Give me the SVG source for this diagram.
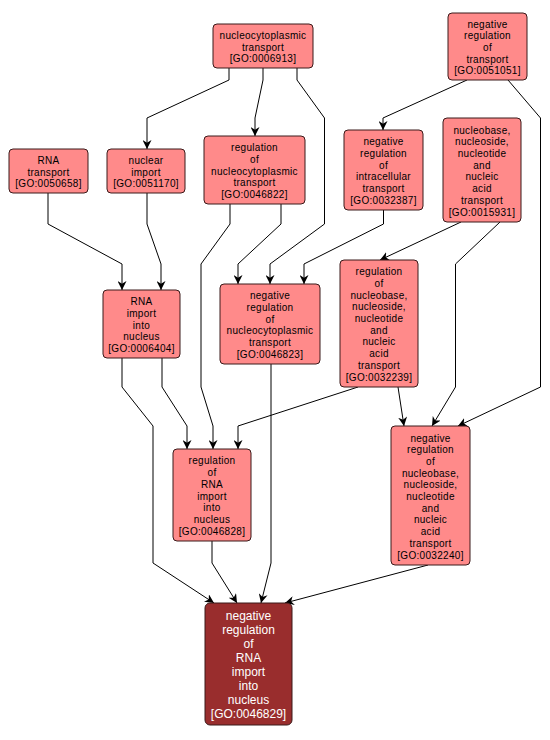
<svg xmlns="http://www.w3.org/2000/svg" width="550" height="740" viewBox="0 0 550 740">
<style>
.n rect{fill:#ff8a8a;stroke:#3a1a1a;stroke-width:1}
.n text{font-family:"Liberation Sans",Arial,sans-serif;font-size:10px;letter-spacing:0.3px;fill:#000;text-anchor:middle}
.t rect{fill:#992d2d;stroke:#3a1a1a;stroke-width:1}
.t text{font-family:"Liberation Sans",Arial,sans-serif;font-size:12px;fill:#fff;text-anchor:middle}
.e path{fill:none;stroke:#000;stroke-width:1;marker-end:url(#ah)}
</style>
<defs>
<marker id="ah" viewBox="0 0 10 10" refX="10" refY="5" markerWidth="9" markerHeight="9" markerUnits="userSpaceOnUse" orient="auto">
<path d="M0,0 L10,5 L0,10 L3,5 z" fill="#000"/>
</marker>
</defs>
<rect width="550" height="740" fill="#fff"/>
<g id="edges" class="e">
<path d="M229,68 L229,80 L147,118 L147,149"/>
<path d="M263,68 L263,80 L255,118 L255,136"/>
<path d="M297,68 L297,80 L324.5,118 L324.5,224 L270,264 L270,284"/>
<path d="M48,193 L48,224 L122,264 L122,290"/>
<path d="M147,193 L147,224 L161,264 L161,290"/>
<path d="M230,204 L230,224 L201,264 L201,387 L213,426 L213,449"/>
<path d="M281,204 L281,224 L238,264 L238,284"/>
<path d="M467,80 L383,118 L383,130"/>
<path d="M508,80 L540.5,118 L540.5,387 L458,426"/>
<path d="M383.5,210 L383.5,224 L304,264 L304,284"/>
<path d="M461,222 L380,260"/>
<path d="M500,222 L455.5,264 L455.5,387 L432,426"/>
<path d="M122,358 L122,387 L153,426 L153,563 L214,603"/>
<path d="M162,358 L162,387 L187,426 L187,449"/>
<path d="M271,364 L271,563 L261,603"/>
<path d="M358,387 L238,426 L238,449"/>
<path d="M398,387 L404,426"/>
<path d="M212,541 L212,563 L237,603"/>
<path d="M428,565 L285,603"/>
</g>
<g id="GO0006913" class="n"><rect x="213" y="24" width="100" height="44" rx="4"/>
<text x="263" y="38.9"><tspan x="263">nucleocytoplasmic</tspan><tspan x="263" dy="11.7">transport</tspan><tspan x="263" dy="11.7">[GO:0006913]</tspan></text></g>
<g id="GO0050658" class="n"><rect x="9" y="149" width="79" height="44" rx="4"/>
<text x="48.5" y="163.9"><tspan x="48.5">RNA</tspan><tspan x="48.5" dy="11.7">transport</tspan><tspan x="48.5" dy="11.7">[GO:0050658]</tspan></text></g>
<g id="GO0051170" class="n"><rect x="107" y="149" width="78" height="44" rx="4"/>
<text x="146" y="163.9"><tspan x="146">nuclear</tspan><tspan x="146" dy="11.7">import</tspan><tspan x="146" dy="11.7">[GO:0051170]</tspan></text></g>
<g id="GO0046822" class="n"><rect x="204" y="136" width="101" height="68" rx="4"/>
<text x="254.5" y="151.1"><tspan x="254.5">regulation</tspan><tspan x="254.5" dy="11.7">of</tspan><tspan x="254.5" dy="11.7">nucleocytoplasmic</tspan><tspan x="254.5" dy="11.7">transport</tspan><tspan x="254.5" dy="11.7">[GO:0046822]</tspan></text></g>
<g id="GO0051051" class="n"><rect x="448" y="13" width="79" height="67" rx="4"/>
<text x="487.5" y="27.6"><tspan x="487.5">negative</tspan><tspan x="487.5" dy="11.7">regulation</tspan><tspan x="487.5" dy="11.7">of</tspan><tspan x="487.5" dy="11.7">transport</tspan><tspan x="487.5" dy="11.7">[GO:0051051]</tspan></text></g>
<g id="GO0032387" class="n"><rect x="344" y="130" width="79" height="80" rx="4"/>
<text x="383.5" y="145.3"><tspan x="383.5">negative</tspan><tspan x="383.5" dy="11.7">regulation</tspan><tspan x="383.5" dy="11.7">of</tspan><tspan x="383.5" dy="11.7">intracellular</tspan><tspan x="383.5" dy="11.7">transport</tspan><tspan x="383.5" dy="11.7">[GO:0032387]</tspan></text></g>
<g id="GO0015931" class="n"><rect x="443" y="118" width="78" height="104" rx="4"/>
<text x="482" y="133.6"><tspan x="482">nucleobase,</tspan><tspan x="482" dy="11.7">nucleoside,</tspan><tspan x="482" dy="11.7">nucleotide</tspan><tspan x="482" dy="11.7">and</tspan><tspan x="482" dy="11.7">nucleic</tspan><tspan x="482" dy="11.7">acid</tspan><tspan x="482" dy="11.7">transport</tspan><tspan x="482" dy="11.7">[GO:0015931]</tspan></text></g>
<g id="GO0006404" class="n"><rect x="103" y="290" width="77" height="68" rx="4"/>
<text x="141.5" y="305.1"><tspan x="141.5">RNA</tspan><tspan x="141.5" dy="11.7">import</tspan><tspan x="141.5" dy="11.7">into</tspan><tspan x="141.5" dy="11.7">nucleus</tspan><tspan x="141.5" dy="11.7">[GO:0006404]</tspan></text></g>
<g id="GO0046823" class="n"><rect x="220" y="284" width="100" height="80" rx="4"/>
<text x="270" y="299.3"><tspan x="270">negative</tspan><tspan x="270" dy="11.7">regulation</tspan><tspan x="270" dy="11.7">of</tspan><tspan x="270" dy="11.7">nucleocytoplasmic</tspan><tspan x="270" dy="11.7">transport</tspan><tspan x="270" dy="11.7">[GO:0046823]</tspan></text></g>
<g id="GO0032239" class="n"><rect x="340" y="260" width="78" height="127" rx="4"/>
<text x="379" y="275.2"><tspan x="379">regulation</tspan><tspan x="379" dy="11.7">of</tspan><tspan x="379" dy="11.7">nucleobase,</tspan><tspan x="379" dy="11.7">nucleoside,</tspan><tspan x="379" dy="11.7">nucleotide</tspan><tspan x="379" dy="11.7">and</tspan><tspan x="379" dy="11.7">nucleic</tspan><tspan x="379" dy="11.7">acid</tspan><tspan x="379" dy="11.7">transport</tspan><tspan x="379" dy="11.7">[GO:0032239]</tspan></text></g>
<g id="GO0046828" class="n"><rect x="173" y="449" width="78" height="92" rx="4"/>
<text x="212" y="464.4"><tspan x="212">regulation</tspan><tspan x="212" dy="11.7">of</tspan><tspan x="212" dy="11.7">RNA</tspan><tspan x="212" dy="11.7">import</tspan><tspan x="212" dy="11.7">into</tspan><tspan x="212" dy="11.7">nucleus</tspan><tspan x="212" dy="11.7">[GO:0046828]</tspan></text></g>
<g id="GO0032240" class="n"><rect x="391" y="426" width="79" height="139" rx="4"/>
<text x="430.5" y="441.5"><tspan x="430.5">negative</tspan><tspan x="430.5" dy="11.7">regulation</tspan><tspan x="430.5" dy="11.7">of</tspan><tspan x="430.5" dy="11.7">nucleobase,</tspan><tspan x="430.5" dy="11.7">nucleoside,</tspan><tspan x="430.5" dy="11.7">nucleotide</tspan><tspan x="430.5" dy="11.7">and</tspan><tspan x="430.5" dy="11.7">nucleic</tspan><tspan x="430.5" dy="11.7">acid</tspan><tspan x="430.5" dy="11.7">transport</tspan><tspan x="430.5" dy="11.7">[GO:0032240]</tspan></text></g>
<g id="GO0046829" class="t"><rect x="205" y="603" width="87" height="122" rx="5"/>
<text x="248.5" y="620.3"><tspan x="248.5">negative</tspan><tspan x="248.5" dy="14">regulation</tspan><tspan x="248.5" dy="14">of</tspan><tspan x="248.5" dy="14">RNA</tspan><tspan x="248.5" dy="14">import</tspan><tspan x="248.5" dy="14">into</tspan><tspan x="248.5" dy="14">nucleus</tspan><tspan x="248.5" dy="14">[GO:0046829]</tspan></text></g>
</svg>
